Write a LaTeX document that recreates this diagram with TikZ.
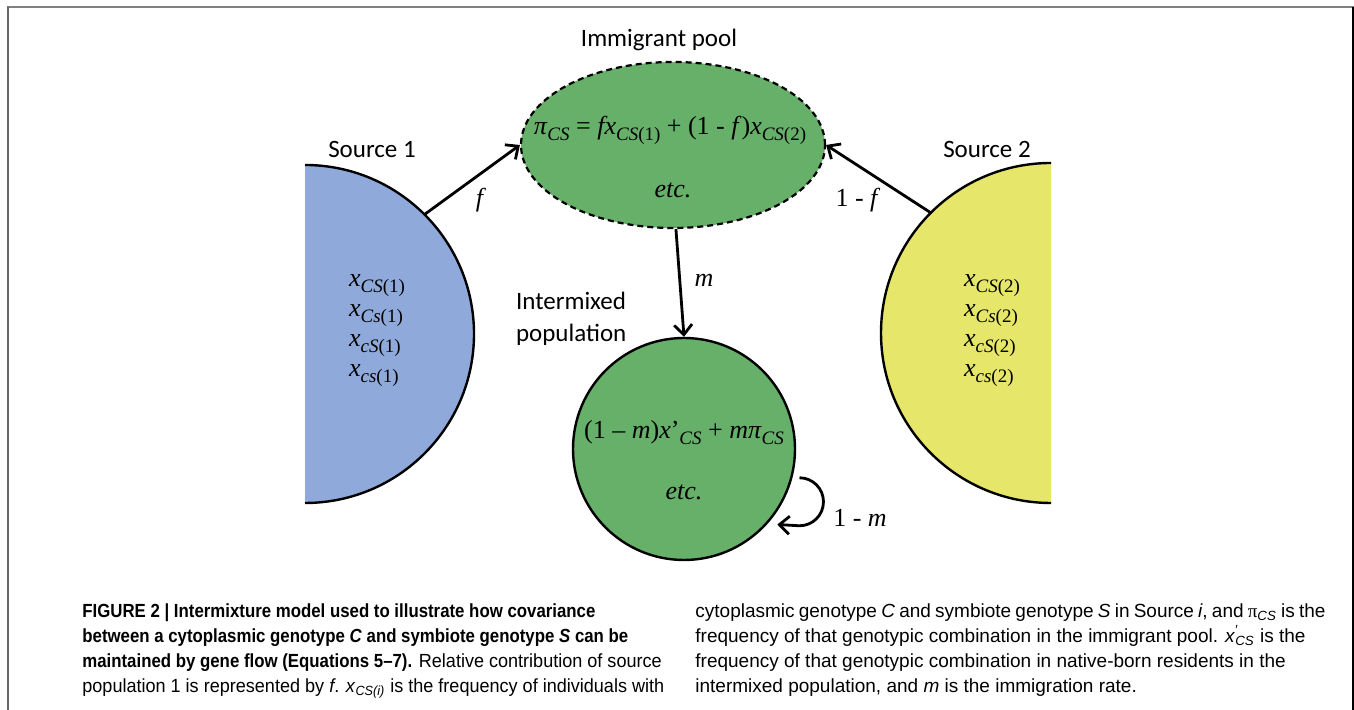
\documentclass[tikz,border=0pt]{standalone}
\usepackage[no-math]{fontspec}
\setmainfont{Carlito}
\newfontfamily\tms{Liberation Serif}
\newfontfamily\capfont[BoldFeatures={FakeStretch=0.885}, BoldItalicFeatures={FakeStretch=0.885}]{Liberation Sans}
\newfontfamily\capfontL[FakeStretch=0.95, BoldFeatures={FakeStretch=0.885}, BoldItalicFeatures={FakeStretch=0.885}]{Liberation Sans}
\usetikzlibrary{shapes.geometric, arrows.meta, calc}

\definecolor{srcblue}{RGB}{143,170,218}
\definecolor{srcyellow}{RGB}{230,230,106}
\definecolor{popgreen}{RGB}{102,176,106}

% lowered subscript in the serif text font
\newcommand{\sbs}[1]{\raisebox{-0.5ex}{\fontsize{9.5}{10}\selectfont #1}}

\tikzset{
    flow/.style={->, line width=1.4pt},
    lbl/.style={font=\fontsize{12.5}{16}\selectfont},
    mth/.style={font=\tms\fontsize{13}{15}\selectfont},
    popdisk/.style={circle, inner sep=0pt, outer sep=0pt},
    captxt/.style={font=\capfont\fontsize{9.5}{12.5}\selectfont, align=left, anchor=north west, inner sep=0pt},
    captxtL/.style={captxt, font=\capfontL\fontsize{9.5}{12.5}\selectfont},
}

\begin{document}
\begin{tikzpicture}[x=0.5pt, y=0.5pt, >={Straight Barb[length=5pt,width=9pt]}]
    \useasboundingbox (0,0) rectangle (1354,710);
    % frame
    \draw[black!50, line width=1pt] (7,702.5) -- (1354,702.5);
    \draw[black!60, line width=1pt] (7.5,702.5) -- (7.5,0);
    \draw[black, line width=1pt] (1353,702.5) -- (1353,0);

    % source 1 (right half of a disk)
    \node[popdisk, minimum size=169pt] (src1) at (305,376) {};
    \begin{scope}
        \clip (305,0) rectangle (600,710);
        \fill[srcblue] (src1.center) circle[radius=84.5pt];
    \end{scope}
    \draw[line width=1.2pt] (src1.north) arc[start angle=90, end angle=-90, radius=84.5pt];

    % source 2 (left half of a disk)
    \node[popdisk, minimum size=170pt] (src2) at (1051,377) {};
    \begin{scope}
        \clip (700,0) rectangle (1051,710);
        \fill[srcyellow] (src2.center) circle[radius=85pt];
    \end{scope}
    \draw[line width=1.2pt] (src2.north) arc[start angle=90, end angle=270, radius=85pt];

    % immigrant pool
    \node[ellipse, draw, line width=1.1pt, dash pattern=on 3pt off 2pt, fill=popgreen,
          minimum width=152pt, minimum height=83pt, inner sep=0pt] (pool) at (673,565) {};
    \node[mth] (poolfx) at (670,580) {\textit{π}\sbs{\textit{CS}} = \textit{fx}\sbs{\textit{CS}(1)} + (1 - \textit{f})\textit{x}\sbs{\textit{CS}(2)}};
    \node[mth] (pooletc) at (673,520) {\itshape etc.};

    % intermixed population
    \node[circle, draw, line width=1.2pt, fill=popgreen, minimum size=111pt, inner sep=0pt] (mix) at (684,261) {};
    \node[mth] (mixfx) at (684,277) {(1 – \textit{m})\textit{x}’\sbs{\textit{CS}} + \textit{mπ}\sbs{\textit{CS}}};
    \node[mth] (mixetc) at (684,218) {\itshape etc.};

    % genotype lists
    \node[mth, anchor=west, align=left] (lst1) at (342,379)
        {\textit{x}\sbs{\textit{CS}(1)}\\ \textit{x}\sbs{\textit{Cs}(1)}\\ \textit{x}\sbs{\textit{cS}(1)}\\ \textit{x}\sbs{\textit{cs}(1)}};
    \node[mth, anchor=west, align=left] (lst2) at (957,379)
        {\textit{x}\sbs{\textit{CS}(2)}\\ \textit{x}\sbs{\textit{Cs}(2)}\\ \textit{x}\sbs{\textit{cS}(2)}\\ \textit{x}\sbs{\textit{cs}(2)}};

    % titles
    \node[lbl] (poolttl) at (659,670) {Immigrant pool};
    \node[lbl] (s1ttl) at (372,561) {Source 1};
    \node[lbl] (s2ttl) at (987,561) {Source 2};
    \node[lbl, align=left, anchor=west] (mixttl) at (509,391) {Intermixed\\population};

    % flows
    \draw[flow] (src1.45) -- (pool.west);
    \node[mth] (flbl) at (481,510) {\textit{f}};
    \draw[flow] (src2.135) -- (pool.east);
    \node[mth] (oneminusf) at (858,510) {1 - \textit{f}};
    \draw[flow] (pool.-88) -- (mix.north);
    \node[mth] (mlbl) at (704,430) {\textit{m}};

    % residents stay
    \coordinate (loopS) at ($(mix.center)+(-14:59.5pt)$);
    \coordinate (loopE) at ($(mix.center)+(-39:60pt)$);
    \draw[flow] (loopS) arc[start angle=90, end angle=-90, radius=12pt] -- (loopE);
    \node[mth] (oneminusm) at (860,192) {1 - \textit{m}};

    % caption
    \node[captxtL] (capL) at (82,107) {%
        \textbf{FIGURE 2 | Intermixture model used to illustrate how covariance}\\
        \textbf{between a cytoplasmic genotype \textit{C} and symbiote genotype \textit{S} can be}\\
        \textbf{maintained by gene flow (Equations 5–7).} Relative contribution of source\\
        population 1 is represented by \textit{f}. \textit{x}\textsubscript{\textit{CS(i)}} is the frequency of individuals with};
    \node[captxt] (capR) at (695,107) {%
        {\spaceskip=0.8\fontdimen2\font cytoplasmic genotype \textit{C} and symbiote genotype \textit{S} in Source \textit{i}, and {\tms π}\textsubscript{\textit{CS}} is the}\\
        frequency of that genotypic combination in the immigrant pool. \textit{x}\rlap{\textsuperscript{′}}\textsubscript{\textit{CS}} is the\\
        frequency of that genotypic combination in native-born residents in the\\
        intermixed population, and \textit{m} is the immigration rate.};
\end{tikzpicture}
\end{document}
